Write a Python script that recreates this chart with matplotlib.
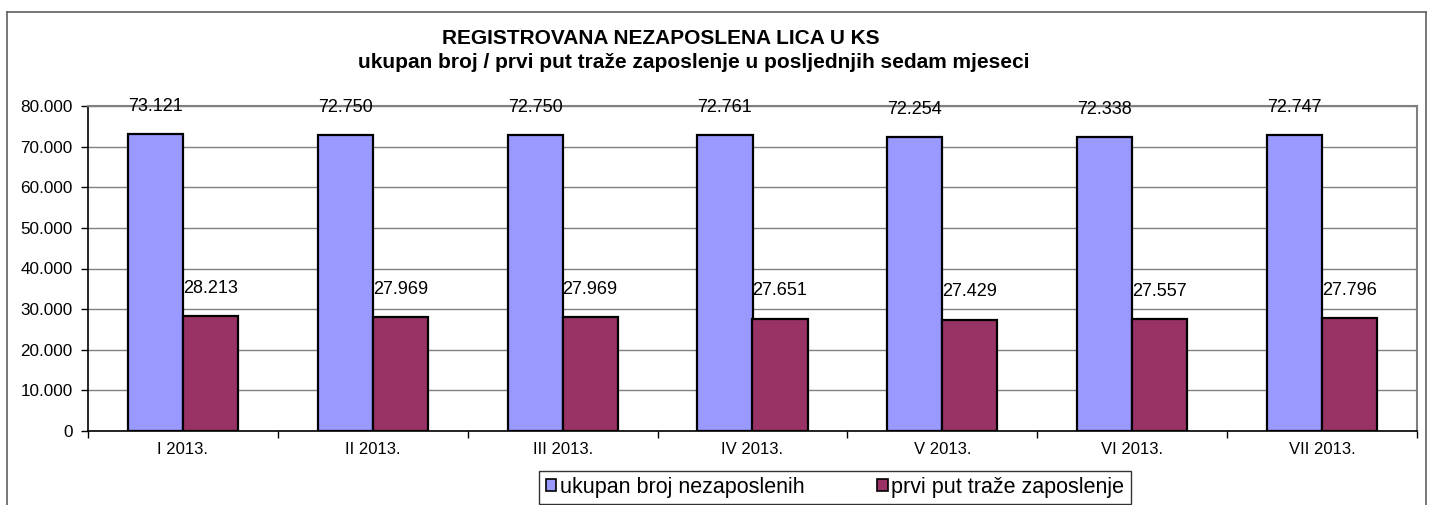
import numpy as np
import matplotlib.pyplot as plt
from matplotlib.patches import Patch
from matplotlib.lines import Line2D
from matplotlib.ticker import FuncFormatter

plt.rcParams['font.family'] = ['Liberation Sans', 'DejaVu Sans']

months = ["I 2013.", "II 2013.", "III 2013.", "IV 2013.", "V 2013.", "VI 2013.", "VII 2013."]
ukupno = [73121, 72750, 72750, 72761, 72254, 72338, 72747]
prvi_put = [28213, 27969, 27969, 27651, 27429, 27557, 27796]

blue = "#9999FF"
plum = "#993366"

fig = plt.figure(figsize=(14.35, 5.05), dpi=100)
ax = fig.add_axes([88/1435, 1-431/505, (1417-88)/1435, (431-106)/505])

x = np.arange(len(months))
w = 0.29
b1 = ax.bar(x - w/2, ukupno, w, color=blue, edgecolor="black", linewidth=1.6, zorder=3)
b2 = ax.bar(x + w/2, prvi_put, w, color=plum, edgecolor="black", linewidth=1.6, zorder=3)

def fmt(v):
    return f"{v:,.0f}".replace(",", ".")

for bars, vals in ((b1, ukupno), (b2, prvi_put)):
    for r, v in zip(bars, vals):
        ax.annotate(fmt(v), (r.get_x() + r.get_width()/2, v), xytext=(0, 20),
                    textcoords="offset points", ha="center", va="center", fontsize=13)

ax.set_xlim(-0.5, len(months) - 0.5)
ax.set_ylim(0, 80000)
ax.set_yticks(np.arange(0, 80001, 10000))
ax.yaxis.set_major_formatter(FuncFormatter(lambda v, p: fmt(v)))
ax.set_xticks(x)
ax.set_xticklabels(months)
ax.set_xticks(np.arange(-0.5, len(months)), minor=True)
ax.tick_params(axis="x", which="major", length=0, pad=8, labelsize=12)
ax.tick_params(axis="x", which="minor", length=5, width=1, direction="out")
ax.tick_params(axis="y", length=5, width=1, direction="out", labelsize=12.3, pad=6)

ax.grid(axis="y", color="#808080", linewidth=1, zorder=0)
for s in ("top", "right"):
    ax.spines[s].set_color("#808080")
    ax.spines[s].set_linewidth(1.5)
for s in ("left", "bottom"):
    ax.spines[s].set_color("black")
    ax.spines[s].set_linewidth(1.2)

fig.text(661/1435, 1-38/505, "REGISTROVANA NEZAPOSLENA LICA U KS", ha="center", va="center",
         fontsize=15, fontweight="bold")
fig.text(694/1435, 1-62/505, "ukupan broj / prvi put traže zaposlenje u posljednjih sedam mjeseci",
         ha="center", va="center", fontsize=15, fontweight="bold")

# outer chart frame
fc = "#606060"
fig.add_artist(Line2D([7/1435, 7/1435], [0, 1-12/505], color=fc, linewidth=1.2))
fig.add_artist(Line2D([7/1435, 1426/1435], [1-12/505, 1-12/505], color=fc, linewidth=1.2))
fig.add_artist(Line2D([1426/1435, 1426/1435], [0, 1-12/505], color=fc, linewidth=1.2))

handles = [Patch(facecolor=blue, edgecolor="black", linewidth=1.2),
           Patch(facecolor=plum, edgecolor="black", linewidth=1.2)]
leg = fig.legend(handles, ["ukupan broj nezaposlenih", "prvi put traže zaposlenje"],
                 loc="center", bbox_to_anchor=(835/1435, 1-487.5/505), ncol=2,
                 fontsize=15.5, frameon=True, fancybox=False, handlelength=0.5,
                 handleheight=0.5, handletextpad=0.15, columnspacing=3.4,
                 borderpad=0.3, borderaxespad=0)
leg.get_frame().set_edgecolor("black")
leg.get_frame().set_linewidth(1)

fig.savefig("out.png", dpi=100)
